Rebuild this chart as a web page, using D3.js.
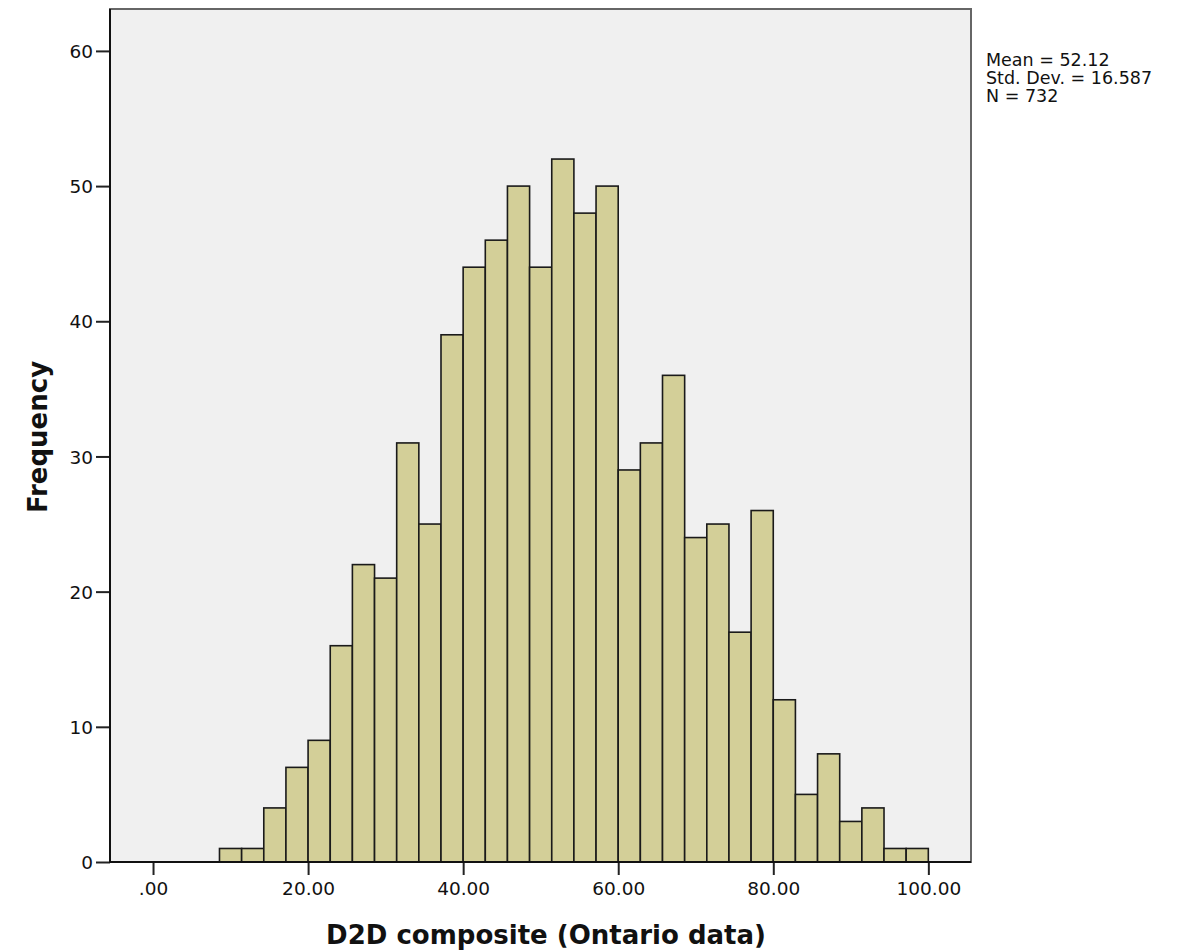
<!DOCTYPE html>
<html>
<head>
<meta charset="utf-8">
<script src="https://cdn.jsdelivr.net/npm/d3@7"></script>
<style>
  body { margin: 0; background: #fff; }
  text { font-family: "DejaVu Sans", sans-serif; fill: #111; }
</style>
</head>
<body>
<div id="chart"></div>
<script>
// histogram counts, one per bin (left to right)
var counts = [1, 1, 4, 7, 9, 16, 22, 21, 31, 25, 39, 44, 46, 50, 44, 52,
              48, 50, 29, 31, 36, 24, 25, 17, 26, 12, 5, 8, 3, 4, 1, 1];
var binStart = 8.571;   // left edge of first bin
var binWidth = 2.857;   // width of each bin

var xTicks = [0, 20, 40, 60, 80, 100];
var xTickLabels = [".00", "20.00", "40.00", "60.00", "80.00", "100.00"];
var yTicks = [0, 10, 20, 30, 40, 50, 60];

var statsLines = ["Mean = 52.12", "Std. Dev. = 16.587", "N = 732"];
var xTitle = "D2D composite (Ontario data)";
var yTitle = "Frequency";

var W = 1199, H = 952;
var plot = {left: 110, right: 971, top: 9, bottom: 862};

var svg = d3.select("#chart")
  .append("svg")
  .attr("width", W)
  .attr("height", H);

var x = d3.scaleLinear()
  .domain([-5.55, 105.5])
  .range([plot.left, plot.right]);

var y = d3.scaleLinear()
  .domain([0, 63.1])
  .range([plot.bottom, plot.top]);

// plot background + frame
svg.append("rect")
  .attr("x", plot.left)
  .attr("y", plot.top)
  .attr("width", plot.right - plot.left)
  .attr("height", plot.bottom - plot.top)
  .attr("fill", "#f0f0f0")
  .attr("stroke", "#666")
  .attr("stroke-width", 2);

// bars
svg.append("g")
  .selectAll("rect")
  .data(counts)
  .enter()
  .append("rect")
  .attr("x", function(d, i) { return x(binStart + i * binWidth); })
  .attr("width", function(d, i) { return x(binStart + (i + 1) * binWidth) - x(binStart + i * binWidth); })
  .attr("y", function(d) { return y(d); })
  .attr("height", function(d) { return y(0) - y(d); })
  .attr("fill", "#d3cf98")
  .attr("stroke", "#1a1a1a")
  .attr("stroke-width", 1.6);

// y axis
var yAxis = svg.append("g")
  .attr("transform", "translate(" + plot.left + ",0)")
  .call(d3.axisLeft(y).tickValues(yTicks).tickSize(14).tickPadding(3).tickFormat(d3.format("d")));
yAxis.select(".domain").remove();
yAxis.append("line")
  .attr("y1", plot.top).attr("y2", plot.bottom + 1)
  .attr("stroke", "#111").attr("stroke-width", 2);
yAxis.selectAll(".tick line").attr("stroke", "#222").attr("stroke-width", 2);
yAxis.selectAll(".tick text")
  .style("font-size", "18.5px")
  .attr("fill", "#111")
  .attr("dy", "0.36em");

// x axis
var xAxis = svg.append("g")
  .attr("transform", "translate(0," + plot.bottom + ")")
  .call(d3.axisBottom(x).tickValues(xTicks).tickSize(13).tickPadding(7)
    .tickFormat(function(d, i) { return xTickLabels[i]; }));
xAxis.select(".domain").remove();
xAxis.append("line")
  .attr("x1", plot.left - 1).attr("x2", plot.right)
  .attr("stroke", "#111").attr("stroke-width", 2);
xAxis.selectAll(".tick line").attr("stroke", "#222").attr("stroke-width", 2);
xAxis.selectAll(".tick text")
  .style("font-size", "18.5px")
  .attr("fill", "#111");

// axis titles
svg.append("text")
  .attr("x", 546)
  .attr("y", 944)
  .style("text-anchor", "middle")
  .style("font-size", "26px")
  .style("font-weight", "bold")
  .text(xTitle);

svg.append("text")
  .attr("transform", "translate(47," + 437 + ") rotate(-90)")
  .style("text-anchor", "middle")
  .style("font-size", "26px")
  .style("font-weight", "bold")
  .text(yTitle);

// stats box text
svg.append("g")
  .selectAll("text")
  .data(statsLines)
  .enter()
  .append("text")
  .attr("x", 986)
  .attr("y", function(d, i) { return 66 + i * 18; })
  .style("font-size", "17.5px")
  .text(function(d) { return d; });
</script>
</body>
</html>
